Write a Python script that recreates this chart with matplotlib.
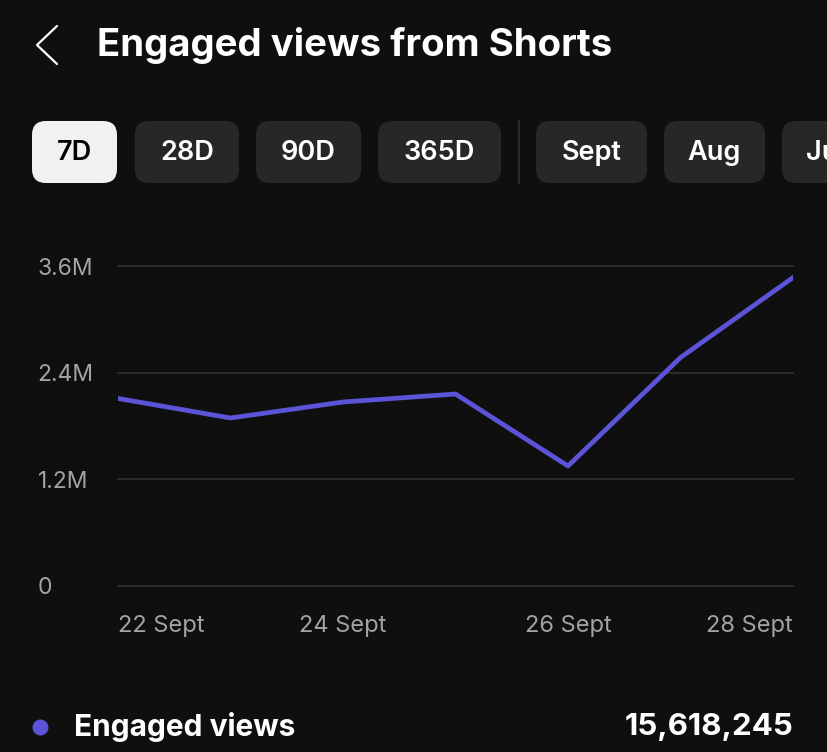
import matplotlib
matplotlib.use("Agg")
from matplotlib import pyplot as plt
from matplotlib.patches import FancyBboxPatch

# data (engaged views per day, millions)
days = ["22 Sept", "23 Sept", "24 Sept", "25 Sept", "26 Sept", "27 Sept", "28 Sept"]
views = [2.11e6, 1.89e6, 2.07e6, 2.16e6, 1.35e6, 2.57e6, 3.47e6]
y_ticks = [0, 1.2e6, 2.4e6, 3.6e6]
y_labels = ["0", "1.2M", "2.4M", "3.6M"]
x_tick_idx = [0, 2, 4, 6]
buttons = ["7D", "28D", "90D", "365D", "Sept", "Aug", "Jul"]
total_label = "15,618,245"

BG = "#0f0f0f"
PURPLE = "#5b54d8"
GRID = "#303030"
GREY = "#a3a3a3"
FONT = "Inter"

W, H = 828, 752
fig = plt.figure(figsize=(W / 100, H / 100), dpi=100, facecolor=BG)

# overlay in pixel coords for the app chrome
ov = fig.add_axes([0, 0, 1, 1])
ov.set_xlim(0, W)
ov.set_ylim(H, 0)
ov.axis("off")

# back chevron + title
ov.plot([57, 37, 57], [26, 45, 64], color="white", lw=1.6, solid_capstyle="round")
ov.text(97, 45, "Engaged views from Shorts", color="white", fontsize=27.6,
        fontweight="bold", family=FONT, va="center", ha="left")

# period buttons
btn_x = [(32, 117), (135, 239), (256, 361), (378, 501), (536, 647), (664, 765), (782, 880)]
for i, (lab, (x0, x1)) in enumerate(zip(buttons, btn_x)):
    sel = i == 0
    ov.add_patch(FancyBboxPatch((x0, 121), x1 - x0, 62,
                                boxstyle="round,pad=0,rounding_size=14",
                                fc="#f1f1f1" if sel else "#272727", ec="none"))
    tx = (x0 + x1) / 2 if i < 6 else 806
    ov.text(tx, 153, lab, color="black" if sel else "white", fontsize=19.5,
            family=FONT, fontweight="semibold", ha="center" if i < 6 else "left",
            va="center", clip_on=True)
ov.plot([519, 519], [121, 183], color="#333333", lw=1.2)

# legend row
ov.scatter([40], [727], s=110, color=PURPLE)
ov.text(74, 727, "Engaged views", color="white", fontsize=21.5, fontweight="bold",
        family=FONT, va="center", ha="left")
ov.text(793, 727, total_label, color="white", fontsize=22.5, fontweight="bold",
        family=FONT, va="center", ha="right")

# chart
ax = fig.add_axes([118 / W, 1 - 586 / H, (793 - 118) / W, (586 - 266) / H])
ax.set_facecolor("none")
x = list(range(len(days)))
ax.plot(x, views, color=PURPLE, lw=3.4, solid_joinstyle="round")
ax.set_xlim(0, len(days) - 1)
ax.set_ylim(0, 3.6e6)
ax.set_yticks(y_ticks)
ax.set_yticklabels(y_labels)
ax.set_xticks(x_tick_idx)
ax.set_xticklabels([days[i] for i in x_tick_idx])
ax.grid(axis="y", color=GRID, lw=1.3)
for gl in ax.get_ygridlines():
    gl.set_clip_on(False)
for sp in ax.spines.values():
    sp.set_visible(False)
ax.tick_params(length=0, colors=GREY)
ax.tick_params(axis="y", pad=58, labelsize=16.5)
ax.tick_params(axis="x", pad=21, labelsize=17)
for t in ax.get_yticklabels():
    t.set_horizontalalignment("left")
    t.set_family(FONT)
for t in ax.get_xticklabels():
    t.set_family(FONT)
xl = ax.get_xticklabels()
xl[0].set_horizontalalignment("left")
xl[-1].set_horizontalalignment("right")

fig.savefig("out.png", dpi=100, facecolor=BG)
